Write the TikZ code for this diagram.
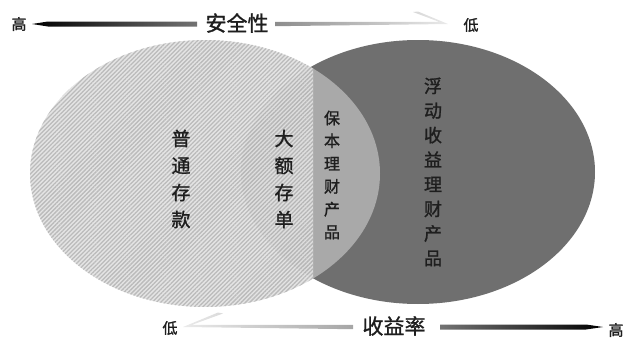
\documentclass[tikz,border=0pt]{standalone}
\usepackage{fontspec}
\newfontfamily\cjk[FakeBold=1.3]{Noto Sans CJK SC}
\usetikzlibrary{patterns.meta}
\definecolor{darkfill}{HTML}{6F6F6F}
\definecolor{midfill}{HTML}{A9A9A9}
\definecolor{hatchbg}{HTML}{E4E4E4}
\definecolor{hatchline}{HTML}{BBBBBB}
\definecolor{txt}{HTML}{1E1E1E}
\begin{document}
\begin{tikzpicture}[x=1pt,y=-1pt,
  vlab/.style={align=center, inner sep=0pt, text=txt},
  hlab/.style={inner sep=0pt, text=txt},
  hatched/.style={preaction={fill=hatchbg}, pattern={Lines[angle=45,distance=3pt,line width=1.3pt]}, pattern color=hatchline}]
\useasboundingbox (0,0) rectangle (633,340);
% right (dark) ellipse
\fill[darkfill] (418,172) ellipse [x radius=177, y radius=132];
% overlap, right of the divide
\begin{scope}
  \clip (313,0) rectangle (633,340);
  \clip (418,172) ellipse [x radius=177, y radius=132];
  \fill[midfill] (205,173.5) ellipse [x radius=175, y radius=133.5];
\end{scope}
% hatched left ellipse, left of the divide
\begin{scope}
  \clip (0,0) rectangle (313,340);
  \path[hatched] (205,173.5) ellipse [x radius=175, y radius=133.5];
  \clip (418,172) ellipse [x radius=177, y radius=132];
  \fill[black, opacity=0.025] (205,173.5) ellipse [x radius=175, y radius=133.5];
\end{scope}
% vertical labels
\node[vlab, font=\cjk\fontsize{19}{27}\selectfont] (ptck) at (181,179) {普\\通\\存\\款};
\node[vlab, font=\cjk\fontsize{19}{27}\selectfont] (decd) at (284,179) {大\\额\\存\\单};
\node[vlab, font=\cjk\fontsize{16}{22.8}\selectfont] (bblc) at (332,175) {保\\本\\理\\财\\产\\品};
\node[vlab, font=\cjk\fontsize{18}{24.6}\selectfont] (fdlc) at (433,172) {浮\\动\\收\\益\\理\\财\\产\\品};
% top axis
\node[hlab, font=\cjk\fontsize{15}{15}\selectfont] (tophi) at (19,24) {高};
\node[hlab, font=\cjk\fontsize{21}{21}\selectfont] (safe) at (237,23) {安全性};
\node[hlab, font=\cjk\fontsize{15}{15}\selectfont] (toplo) at (471,25) {低};
\shade[left color=black, right color=black!55] (32,24) -- (48,21.5) -- (197,21.5) -- (197,26.5) -- (48,26.5) -- cycle;
\shade[left color=black!45, right color=black!8] (275,21.8) -- (439,21.8) -- (413,12) -- (418,11.5) -- (448,24) -- (275,26.2) -- cycle;
% bottom axis
\node[hlab, font=\cjk\fontsize{15}{15}\selectfont] (botlo) at (170,328) {低};
\node[hlab, font=\cjk\fontsize{21}{21}\selectfont] (yield) at (394,326) {收益率};
\node[hlab, font=\cjk\fontsize{15}{15}\selectfont] (bothi) at (616,330) {高};
\shade[left color=black!8, right color=black!35] (353,324.8) -- (192,324.8) -- (223,313.5) -- (218,312.5) -- (183,327) -- (353,329.2) -- cycle;
\shade[left color=black!55, right color=black] (440,324.5) -- (586,324.5) -- (603,327) -- (586,329.5) -- (440,329.5) -- cycle;
\end{tikzpicture}
\end{document}
